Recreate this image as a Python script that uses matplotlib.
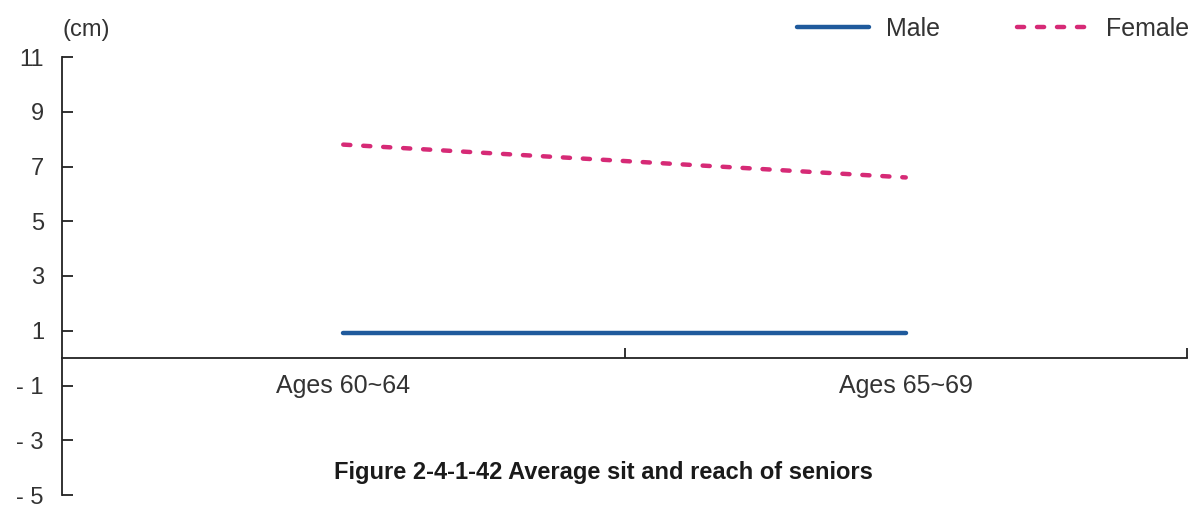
import numpy as np
import matplotlib
matplotlib.use("Agg")
import matplotlib.pyplot as plt

plt.rcParams['font.family'] = ['Liberation Sans', 'DejaVu Sans']

# Data
categories = ["Ages 60~64", "Ages 65~69"]
male = [0.9, 0.9]
female = [7.8, 6.6]
y_ticks = [11, 9, 7, 5, 3, 1, -1, -3, -5]
y_tick_labels = ["11", "9", "7", "5", "3", "1", "- 1", "- 3", "- 5"]

text_color = "#333333"
axis_color = "#222222"
male_color = "#1f5a9c"
female_color = "#d62a76"

fig = plt.figure(figsize=(11.9, 5.07), dpi=100)
ax = fig.add_axes([62 / 1190, 12 / 507, 1125 / 1190, 438 / 507])

x = np.arange(len(categories))
ax.plot(x, male, color=male_color, lw=3.2, solid_capstyle='round', label="Male")
ax.plot(x, female, color=female_color, lw=3.2, dashes=(1.6, 2.9),
        dash_capstyle='round', label="Female")

ax.set_xlim(-0.5, len(categories) - 0.5)
ax.set_ylim(-5, 11)

# Spines: y axis on the left, x axis through zero
for s in ("top", "right"):
    ax.spines[s].set_visible(False)
ax.spines["bottom"].set_position(("data", 0))
for s in ("left", "bottom"):
    ax.spines[s].set_linewidth(1.3)
    ax.spines[s].set_color(axis_color)

ax.set_yticks(y_ticks)
ax.set_yticklabels(y_tick_labels)
ax.tick_params(axis="y", direction="in", length=8, width=1.3, color=axis_color,
               labelsize=17, labelcolor=text_color, pad=13)

# Category separators on the x axis
ax.set_xticks(x + 0.5)
ax.set_xticklabels([])
ax.tick_params(axis="x", direction="in", length=7, width=1.3, color=axis_color)

for xi, cat in zip(x, categories):
    ax.text(xi, -1.0, cat, ha="center", va="center", fontsize=18, color=text_color)

fig.text(62 / 1190, 1 - 30 / 507, "(cm)", ha="left", va="center",
         fontsize=17, color=text_color)

leg = ax.legend(loc="center right", bbox_to_anchor=(1189 / 1190, 1 - 29 / 507),
                bbox_transform=fig.transFigure, ncol=2, frameon=False,
                fontsize=18, handlelength=2.9, columnspacing=3.1,
                handletextpad=0.65, borderaxespad=0, borderpad=0)
for t in leg.get_texts():
    t.set_color(text_color)

fig.text(603 / 1190, 1 - 472 / 507, "Figure 2-4-1-42 Average sit and reach of seniors",
         ha="center", va="center", fontsize=17, fontweight="bold", color="#1a1a1a")

fig.savefig("out.png", dpi=100)
